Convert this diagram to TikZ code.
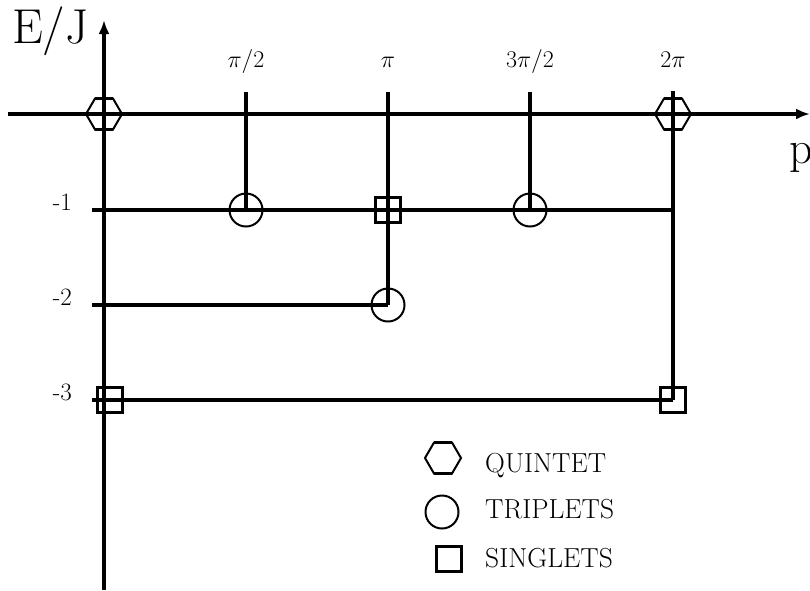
\RequirePackage{fix-cm}
\documentclass[tikz,border=0pt]{standalone}
\usetikzlibrary{arrows.meta}
\newcommand\hexmark[2]{%
  \node[hexnode] (#1) at (#2) {};
  \draw[hexline,shift={(#1.center)}] (-18,0) -- (-9,-15.5) -- (9,-15.5) -- (18,0) -- (9,15.5) -- (-9,15.5) -- cycle;
  \draw[hexline,line width=3.3pt,shift={(#1.center)}] (-9,-15.5) -- (9,-15.5) (-9,15.5) -- (9,15.5);
}
\begin{document}
\begin{tikzpicture}[x=1pt,y=-1pt,
  axis/.style={line width=3.5pt,-{Latex[length=14pt,width=11pt]}},
  lvl/.style={line width=3.5pt},
  trip/.style={circle,draw,line width=2pt,minimum size=33pt,inner sep=0pt},
  sing/.style={rectangle,draw,line width=3.5pt,minimum size=25pt,inner sep=0pt},
  hexnode/.style={circle,minimum size=34pt,inner sep=0pt},
  hexline/.style={line width=2pt,line join=miter},
  tick/.style={font=\fontsize{24}{28}\selectfont,inner sep=0pt,anchor=base},
  num/.style={font=\fontsize{25}{30}\selectfont,inner sep=0pt,anchor=base east},
  big/.style={font=\fontsize{49}{56}\selectfont,inner sep=0pt,anchor=base west},
  leg/.style={font=\fontsize{27.5}{32}\selectfont,inner sep=0pt,anchor=base west}]
\useasboundingbox (0,0) rectangle (810,590);
% axes
\coordinate (xs) at (8,114);
\coordinate (xe) at (810,114);
\coordinate (ys) at (104,590);
\coordinate (ye) at (104,20);
\draw[axis] (xs) -- (xe);
\draw[axis] (ys) -- (ye);
% markers
\node[trip] (c1) at (246,210) {};
\node[trip] (c2) at (530,210) {};
\node[trip] (c3) at (388,305) {};
\node[sing] (s1) at (388,210) {};
\node[sing] (s2) at (110,400) {};
\node[sing] (s3) at (673,400) {};
% tick tops and level starts
\coordinate (t1) at (246,92);
\coordinate (t2) at (388,92);
\coordinate (t3) at (530,92);
\coordinate (t4) at (673,91);
\coordinate (l1) at (92,210);
\coordinate (l1e) at (673,210);
\coordinate (l2) at (92,305);
\coordinate (l3) at (92,400);
\draw[lvl] (t1) -- (c1.center);
\draw[lvl] (t2) -- (c3.center);
\draw[lvl] (t3) -- (c2.center);
\draw[lvl] (t4) -- (s3.center);
\draw[lvl] (l1) -- (l1e);
\draw[lvl] (l2) -- (c3.center);
\draw[lvl] (l3) -- (s3.center);
% hexagons
\hexmark{h0}{104,114}
\hexmark{h1}{673,114}
% labels
\node[big] (ej) at (12,43) {E/J};
\node[big,font=\fontsize{46}{54}\selectfont] (p) at (789,163) {p};
\node[tick] (k1) at (246,67) {$\pi/2$};
\node[tick] (k2) at (388,67) {$\pi$};
\node[tick] (k3) at (530,67) {$3\pi/2$};
\node[tick] (k4) at (673,67) {$2\pi$};
\node[num] (n1) at (72,210) {-1};
\node[num] (n2) at (72,305) {-2};
\node[num] (n3) at (72,400) {-3};
% legend
\hexmark{lh}{443,458}
\node[trip] (lc) at (442,512) {};
\node[sing] (ls) at (449,559) {};
\node[leg] (tq) at (485,472) {QUINTET};
\node[leg] (tt) at (485,518) {TRIPLETS};
\node[leg] (ts) at (485,567) {SINGLETS};
\end{tikzpicture}
\end{document}
